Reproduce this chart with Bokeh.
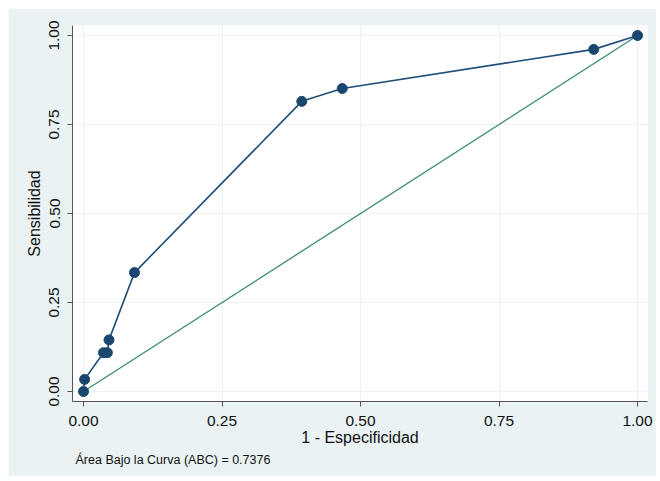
from bokeh.plotting import figure
from bokeh.models import FixedTicker, NumeralTickFormatter, Title, Range1d
from bokeh.embed import file_html
from bokeh.resources import INLINE

# ROC curve points (1 - specificity, sensitivity)
fpr = [0.0, 0.002, 0.036, 0.043, 0.046, 0.092, 0.394, 0.467, 0.921, 1.0]
tpr = [0.0, 0.034, 0.109, 0.109, 0.145, 0.334, 0.815, 0.851, 0.961, 1.0]
ref_x = [0.0, 1.0]
ref_y = [0.0, 1.0]
ticks = [0.0, 0.25, 0.5, 0.75, 1.0]
auc_text = "Área Bajo la Curva (ABC) = 0.7376"
x_title = "1 - Especificidad"
y_title = "Sensibilidad"

FONT = "Liberation Sans"
BG = "#EAF2F3"

p = figure(width=648, height=468, output_backend="svg", toolbar_location=None,
           x_range=Range1d(-0.0199, 1.018), y_range=Range1d(-0.0281, 1.0281),
           min_border_left=64, min_border_top=17, min_border_right=9, min_border_bottom=75)
p.margin = (8, 0, 0, 8)
p.border_fill_color = BG
p.background_fill_color = "white"
p.outline_line_color = None

for ax, t in ((p.xaxis, x_title), (p.yaxis, y_title)):
    ax.ticker = FixedTicker(ticks=ticks)
    ax.formatter = NumeralTickFormatter(format="0.00")
    ax.minor_tick_line_color = None
    ax.major_tick_out = 5
    ax.major_tick_in = 0
    ax.axis_line_color = "#555555"
    ax.major_tick_line_color = "#555555"
    ax.major_label_text_font = FONT
    ax.major_label_text_font_size = "15.5px"
    ax.major_label_text_color = "#111111"
    ax.axis_label = t
    ax.axis_label_text_font = FONT
    ax.axis_label_text_font_size = "16px"
    ax.axis_label_text_font_style = "normal"
    ax.axis_label_text_color = "#111111"

p.xaxis.major_label_standoff = 9
p.xaxis.axis_label_standoff = 0
p.yaxis.major_label_orientation = "vertical"
p.yaxis.major_label_standoff = 8
p.yaxis.axis_label_standoff = 4

p.xgrid.ticker = FixedTicker(ticks=ticks)
p.ygrid.ticker = FixedTicker(ticks=ticks)
p.grid.grid_line_color = BG
p.grid.grid_line_width = 1

p.line(ref_x, ref_y, line_color="#3a8a73", line_width=1.3)
p.line(fpr, tpr, line_color="#1f4e7a", line_width=1.6)
p.scatter(fpr, tpr, size=10, fill_color="#1a476f", line_color="#1a476f")

p.add_layout(Title(text=auc_text, align="left", offset=3, text_font=FONT,
                   text_font_size="12.5px", text_font_style="normal",
                   text_color="#111111", standoff=4), "below")

open("out.html", "w").write(file_html(p, INLINE))
